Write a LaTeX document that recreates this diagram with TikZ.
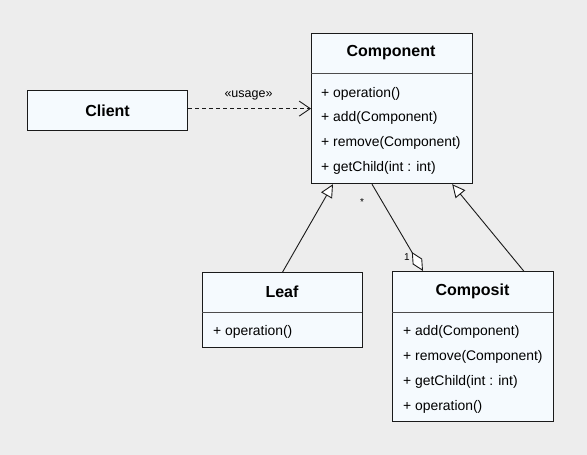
\documentclass[tikz,border=0pt]{standalone}
\usepackage{fontspec}
\setmainfont{Liberation Sans}
\usetikzlibrary{arrows.meta,calc}
\definecolor{bg}{HTML}{EDEDED}
\definecolor{boxfill}{HTML}{F5FAFE}
\definecolor{linec}{HTML}{1A1A1A}
\begin{document}
\begin{tikzpicture}[x=1pt,y=-1pt,
  classbox/.style={draw=linec, fill=boxfill, line width=1.2pt, anchor=north west, inner sep=0pt},
  title/.style={font=\fontsize{16}{19}\selectfont\bfseries, anchor=center, inner sep=0pt},
  row/.style={font=\fontsize{13.9}{16}\selectfont, anchor=west, inner sep=0pt},
  divider/.style={draw=black!70, line width=0.9pt},
  conn/.style={draw=linec, line width=0.9pt},
  mult/.style={font=\fontsize{10}{12}\selectfont, inner sep=0pt},
]
\fill[bg] (0,0) rectangle (587,455);
\useasboundingbox (0,0) rectangle (587,455);

% Client
\node[classbox, minimum width=160pt, minimum height=40pt] (client) at (27,90) {};
\node[title] (clientT) at (client.center) {Client};

% Component
\node[classbox, minimum width=160.5pt, minimum height=150pt] (component) at (311,33) {};
\node[title] (componentT) at (391,53) {Component};
\draw[divider] (311,73) -- (471.5,73);
\node[row] (c1) at (321,93.5) {+ operation()};
\node[row] (c2) at (321,118.3) {+ add(Component)};
\node[row] (c3) at (321,143.1) {+ remove(Component)};
\node[row] (c4) at (321,167.9) {+ getChild(int : int)};

% Leaf
\node[classbox, minimum width=160pt, minimum height=75pt] (leaf) at (202,272) {};
\node[title] (leafT) at (282,292) {Leaf};
\draw[divider] (202,312) -- (362,312);
\node[row] (l1) at (213,332) {+ operation()};

% Composit
\node[classbox, minimum width=161pt, minimum height=150pt] (composit) at (392,271) {};
\node[title] (compositT) at (472.5,291) {Composit};
\draw[divider] (392,312) -- (553,312);
\node[row] (k1) at (403,332) {+ add(Component)};
\node[row] (k2) at (403,357) {+ remove(Component)};
\node[row] (k3) at (403,382) {+ getChild(int : int)};
\node[row] (k4) at (403,406.5) {+ operation()};

% usage dependency
\draw[conn, dash pattern=on 4pt off 3pt, -{Straight Barb[length=11pt,width=15pt]}]
  ($(client.east)+(0,-2)$) -- (component.west);
\node[font=\fontsize{12.5}{14}\selectfont, inner sep=0pt] (usage) at (248.5,95) {«usage»};

% generalizations
\draw[conn, -{Triangle[length=13pt,width=12.5pt,fill=white]}]
  (leaf.north) -- ($(component.south west)+(22pt,0)$);
\draw[conn, -{Triangle[length=13pt,width=12.5pt,fill=white]}]
  ($(composit.north east)+(-30.5pt,0)$) -- ($(component.south east)+(-20.5pt,0)$);

% aggregation
\draw[conn, -{Diamond[length=22pt,width=11pt,fill=white]}]
  ($(component.south west)+(61pt,0)$) -- ($(composit.north west)+(31pt,0)$);
\node[mult] (star) at (362,202) {*};
\node[mult] (one) at (407,257) {1};
\end{tikzpicture}
\end{document}
